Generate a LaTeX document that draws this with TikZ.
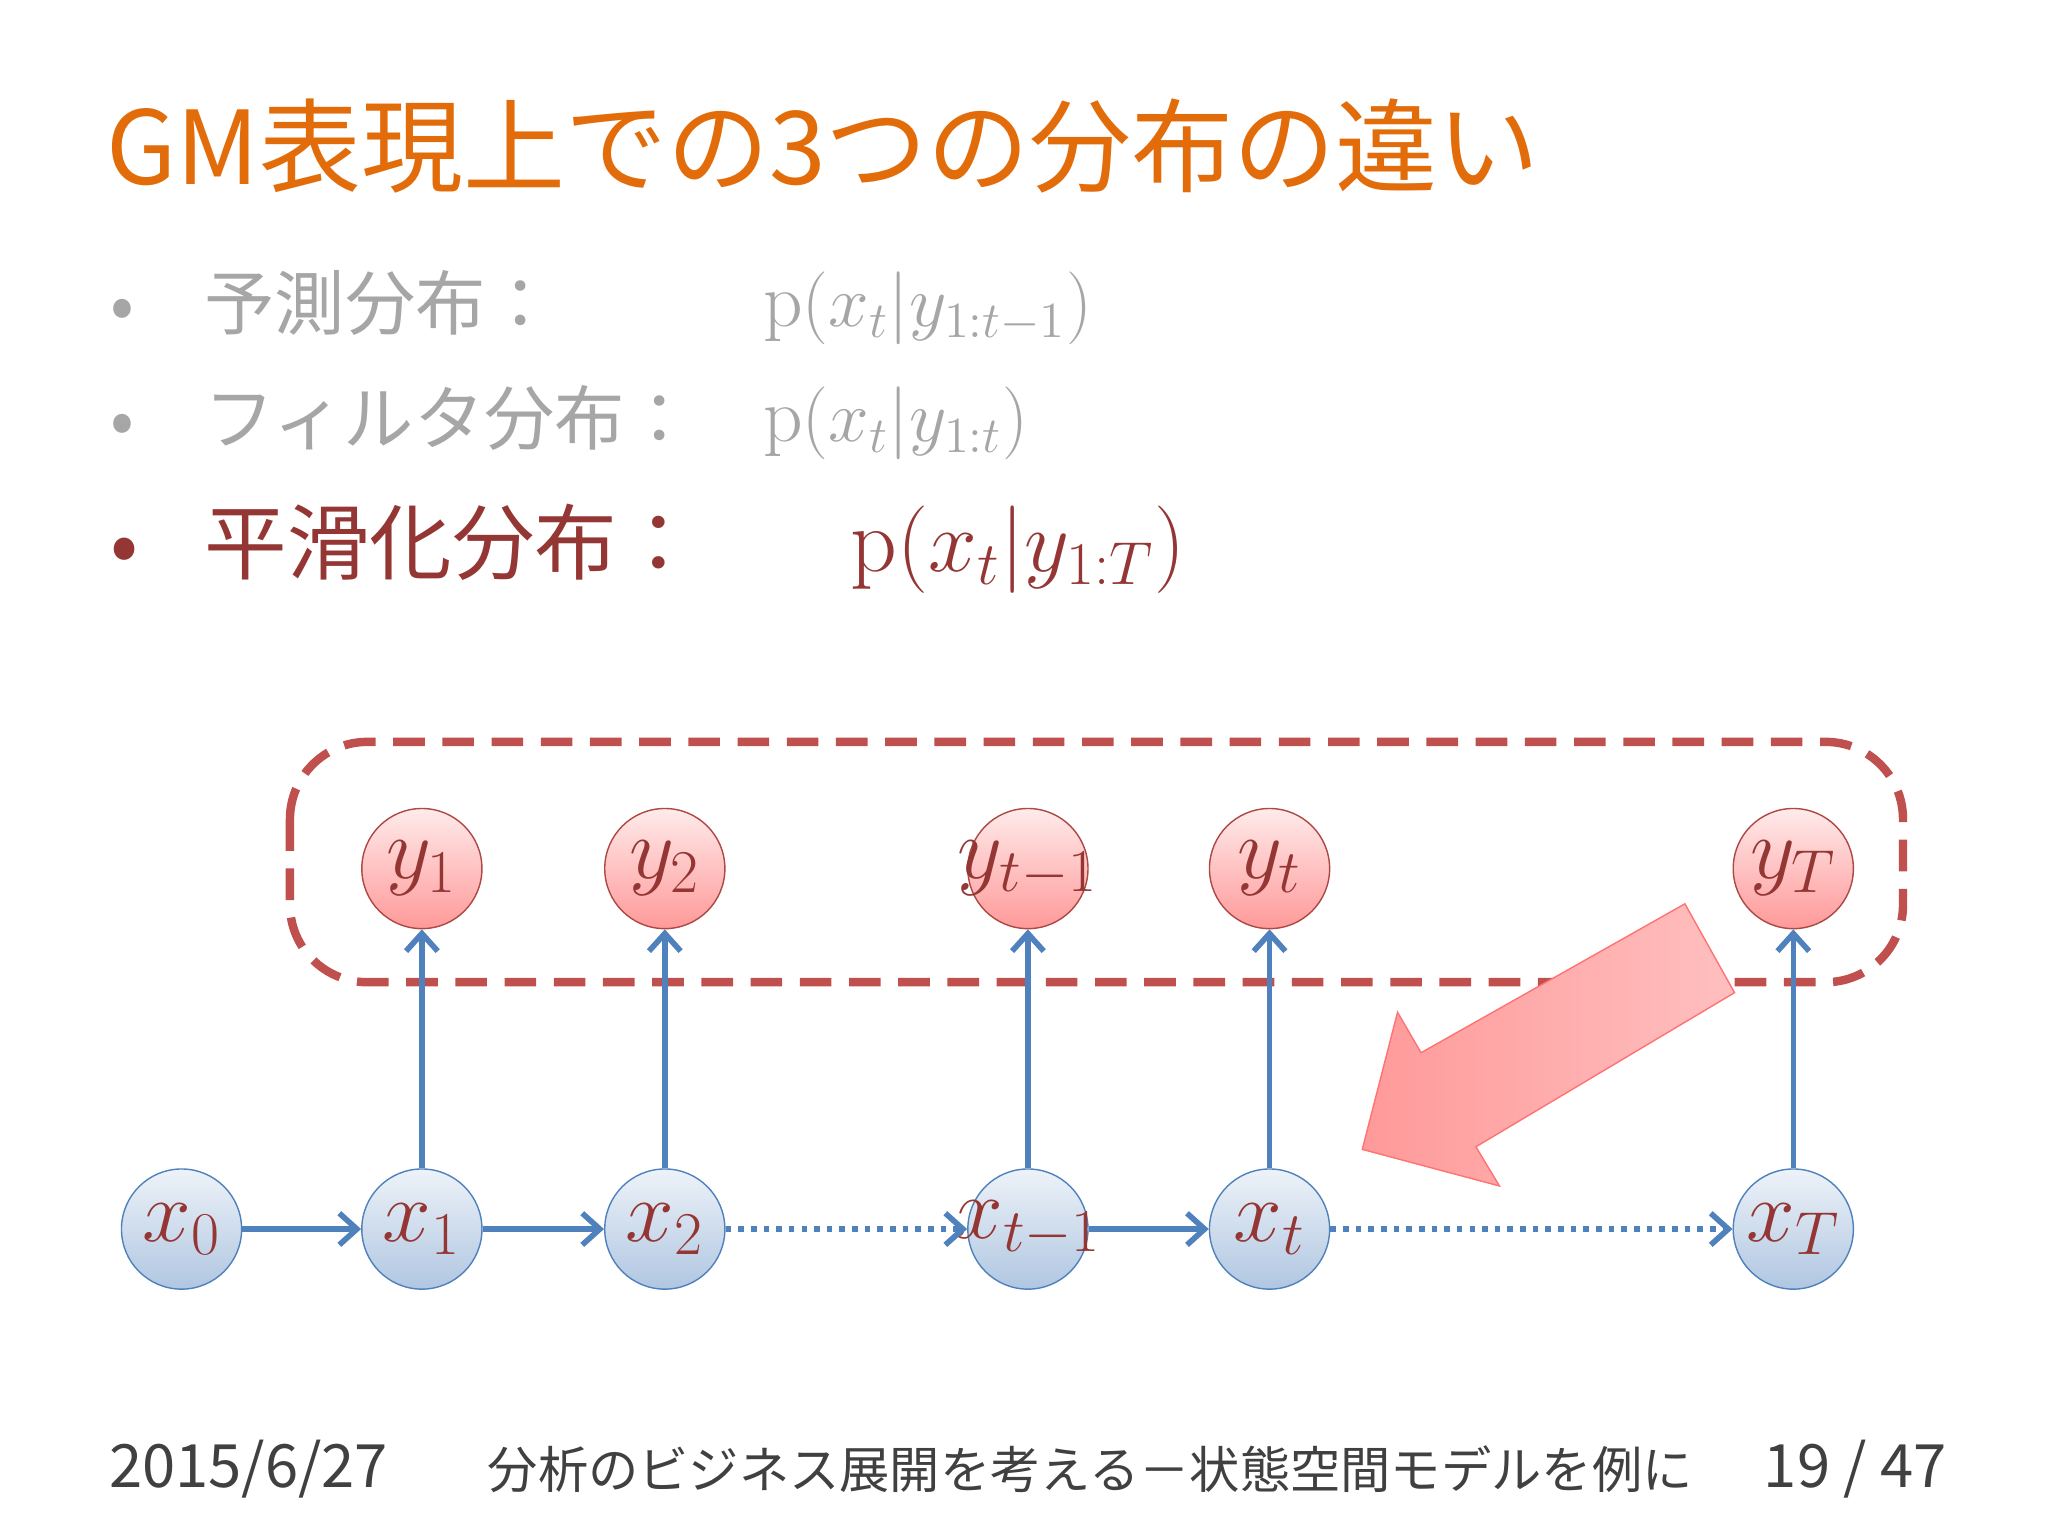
\documentclass[tikz,border=0pt]{standalone}
\usepackage{fontspec}
\setmainfont{Noto Sans CJK JP}
\newfontfamily\lmr{Latin Modern Roman}
\usetikzlibrary{arrows.meta,calc}
\definecolor{ttl}{HTML}{E36C0A}
\definecolor{gr}{HTML}{A6A6A6}
\definecolor{dred}{HTML}{943634}
\definecolor{bred}{HTML}{C0504D}
\definecolor{blu}{HTML}{4F81BD}
\definecolor{foot}{HTML}{404040}
\newcommand{\pp}{\text{\lmr p}}
\usepackage{amsmath}
\tikzset{
 rnode/.style={circle,minimum size=92*0.01306cm,inner sep=0pt,draw=bred!90!black,top color=red!8!white,bottom color=red!40!white,text=dred,font=\fontsize{24}{24}\selectfont},
 bnode/.style={circle,minimum size=92*0.01306cm,inner sep=0pt,draw=blu,top color=blu!10!white,bottom color=blu!45!white,text=dred,font=\fontsize{24}{24}\selectfont},
 con/.style={draw=blu,line width=1.6pt,-{Straight Barb[length=5pt,width=9pt]}},
 dcon/.style={con,dotted}
}
\begin{document}
\begin{tikzpicture}[x=0.01306cm,y=-0.01306cm]
\useasboundingbox[fill=white] (0,0) rectangle (1568,1176);
\node[anchor=west,text=ttl,font=\fontsize{29}{29}\selectfont] (title) at (72,112) {GM表現上での3つの分布の違い};
\node[anchor=west,text=gr,font=\fontsize{20}{20}\selectfont] (b1) at (75,232) {•\hspace{1.0em}予測分布：};
\node[anchor=west,text=gr,font=\fontsize{22}{22}\selectfont] (m1) at (575,236) {$\pp(x_t|y_{1:t-1})$};
\node[anchor=west,text=gr,font=\fontsize{20}{20}\selectfont] (b2) at (75,320) {•\hspace{1.0em}フィルタ分布：};
\node[anchor=west,text=gr,font=\fontsize{22}{22}\selectfont] (m2) at (575,324) {$\pp(x_t|y_{1:t})$};
\node[anchor=west,text=dred,font=\fontsize{23.5}{23.5}\selectfont] (b3) at (75,415) {•\hspace{0.8em}平滑化分布：};
\node[anchor=west,text=dred,font=\fontsize{26}{26}\selectfont] (m3) at (642,421) {$\pp(x_t|y_{1:T})$};
\draw[bred,line width=2.4pt,dash pattern=on 9pt off 5pt,rounded corners=22pt] (222,568) rectangle (1457,752);
\foreach \n/\xx/\lab in {1/323/1,2/509/2,3/787/{t-1},4/972/t,5/1373/T}{
 \node[rnode] (y\n) at (\xx,665) {\makebox[0pt]{$y_{\lab}$}};
 \node[bnode] (x\n) at (\xx,941) {\makebox[0pt]{$x_{\lab}$}};
 \draw[con] (x\n) -- (y\n);
}
\node[bnode] (x0) at (139,941) {$x_0$};
\draw[con] (x0) -- (x1);
\draw[con] (x1) -- (x2);
\draw[dcon] (x2) -- (x3);
\draw[con] (x3) -- (x4);
\draw[dcon] (x4) -- (x5);
\fill[left color=red!40!white,right color=red!25!white,draw=red!55!white] (1290,692) -- (1328,760) -- (1130,878) -- (1148,908) -- (1043,880) -- (1070,775) -- (1088,806) -- cycle;
\node[anchor=west,text=foot,font=\fontsize{17}{17}\selectfont] (d) at (74,1125) {2015/6/27};
\node[anchor=west,text=foot,font=\fontsize{14.3}{14.3}\selectfont] (f) at (364,1125) {分析のビジネス展開を考える－状態空間モデルを例に};
\node[anchor=east,text=foot,font=\fontsize{17}{17}\selectfont] (pg) at (1500,1125) {19 / 47};
\end{tikzpicture}
\end{document}
